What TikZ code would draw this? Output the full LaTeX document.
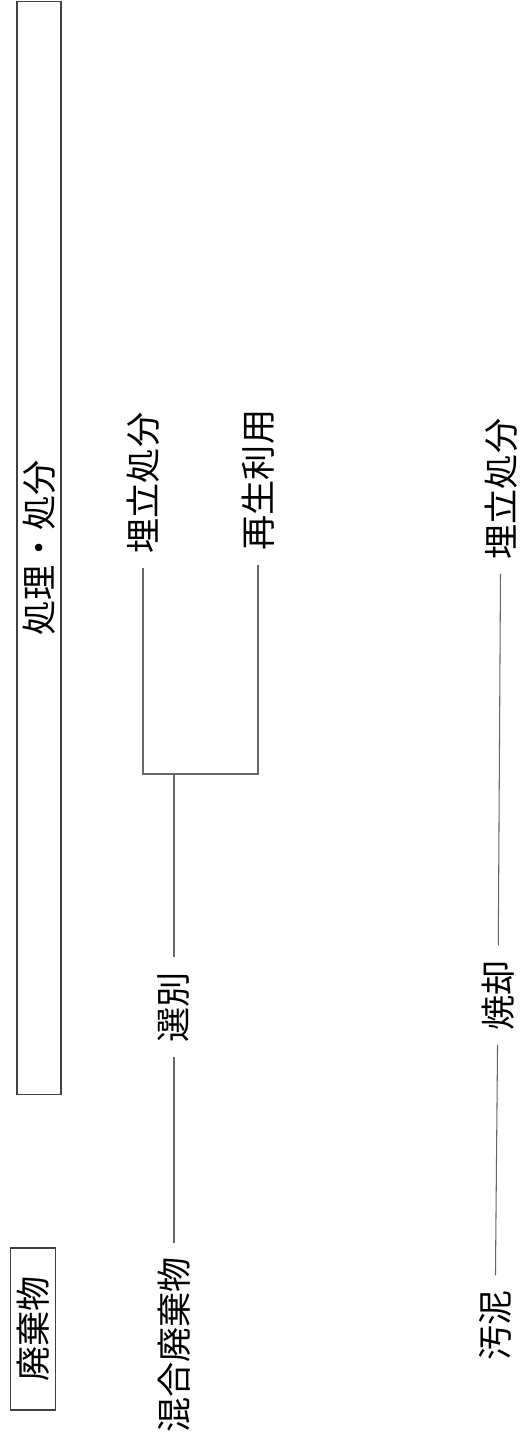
\documentclass[tikz,border=0pt]{standalone}
\usepackage{fontspec}
\newfontfamily\jp{Noto Sans CJK JP}
\usetikzlibrary{positioning}
\tikzset{
  lbl/.style={rotate=90, inner sep=8pt, font=\jp\fontsize{20}{24}\selectfont},
  conn/.style={draw=black!60, line width=0.6pt},
  boxed/.style={lbl, draw=black!75, line width=0.8pt, inner sep=0pt}
}
\begin{document}
\begin{tikzpicture}[x=0.02cm, y=-0.02cm]
        \useasboundingbox (0,0) rectangle (521,1444);
        \node[boxed, minimum width=21.86cm, minimum height=0.88cm] (shori) at (39,548) {処理・処分};
        \node[boxed, minimum width=3.24cm, minimum height=0.9cm] (haiki) at (33,1329) {廃棄物};
        \node[lbl] (kongo) at (174,1345) {混合廃棄物};
        \node[lbl] (senbetsu) at (174,1007) {選別};
        \node[lbl] (umetate1) at (143,483) {埋立処分};
        \node[lbl] (saisei) at (258,480) {再生利用};
        \node[lbl] (odei) at (495,1325) {汚泥};
        \node[lbl] (shokyaku) at (498,995) {焼却};
        \node[lbl] (umetate2) at (501,489) {埋立処分};
        \coordinate (bunki) at (174,774);
        \draw[conn] (kongo) -- (senbetsu);
        \draw[conn] (senbetsu) -- (bunki);
        \draw[conn] (umetate1.west) |- (bunki) -| (saisei.west);
        \draw[conn] (odei) -- (shokyaku);
        \draw[conn] (shokyaku) -- (umetate2);
    \end{tikzpicture}
\end{document}
